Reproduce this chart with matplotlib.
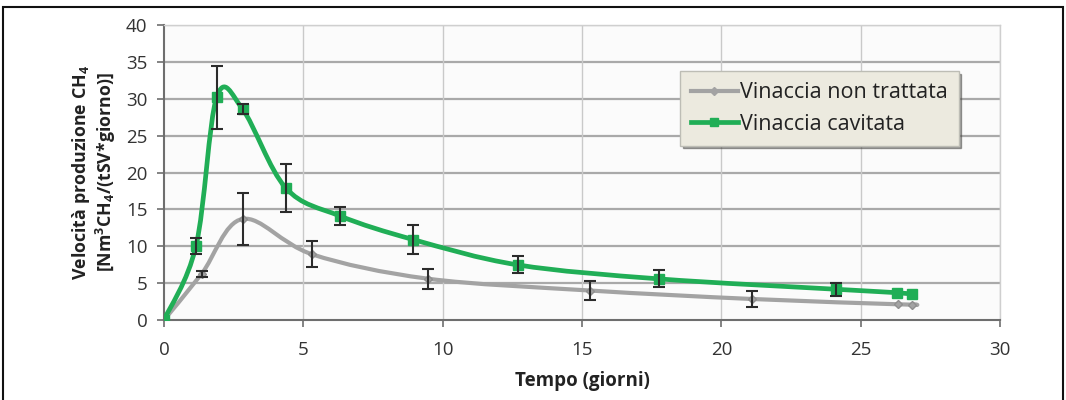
import numpy as np
import matplotlib
matplotlib.use("Agg")
import matplotlib.pyplot as plt
from matplotlib.path import Path
from matplotlib.patches import PathPatch, Rectangle
from matplotlib.lines import Line2D

plt.rcParams['font.family'] = ['Open Sans', 'DejaVu Sans']
plt.rcParams['mathtext.fontset'] = 'custom'
plt.rcParams['mathtext.rm'] = 'Open Sans'
plt.rcParams['mathtext.bf'] = 'Open Sans:bold'

# ---- data ----
gray_x = [0, 1.35, 2.82, 5.32, 9.47, 15.27, 21.09, 26.35, 26.84]
gray_y = [0, 6.26, 13.7, 8.9, 5.6, 4.0, 2.85, 2.13, 2.1]
gray_err = [0, 0.4, 3.55, 1.75, 1.35, 1.35, 1.15, 0, 0]

green_x = [0, 1.15, 1.89, 2.82, 4.37, 6.32, 8.95, 12.70, 17.78, 24.11, 26.30, 26.84]
green_y = [0, 10.06, 30.2, 28.6, 17.9, 14.1, 10.9, 7.47, 5.57, 4.17, 3.7, 3.5]
green_err = [0, 1.1, 4.3, 0.7, 3.2, 1.2, 1.95, 1.15, 1.15, 0.9, 0, 0]

labels = ["Vinaccia non trattata", "Vinaccia cavitata"]
xticks = [0, 5, 10, 15, 20, 25, 30]
yticks = [0, 5, 10, 15, 20, 25, 30, 35, 40]

GRAY = '#a3a3a3'
GREEN = '#20ae56'


def smooth_path(xs, ys):
    """Excel-like smoothed line: Catmull-Rom as cubic Bezier segments."""
    P = np.column_stack([xs, ys]).astype(float)
    n = len(P)
    verts = [P[0]]
    codes = [Path.MOVETO]
    for i in range(n - 1):
        p0 = P[i - 1] if i > 0 else P[i]
        p1 = P[i]
        p2 = P[i + 1]
        p3 = P[i + 2] if i + 2 < n else P[i + 1]
        c1 = p1 + (p2 - p0) / 6.0
        c2 = p2 - (p3 - p1) / 6.0
        verts += [c1, c2, p2]
        codes += [Path.CURVE4] * 3
    return Path(verts, codes)


fig = plt.figure(figsize=(10.66, 4.0), dpi=100)
ax = fig.add_axes([164 / 1066, 80 / 400, 836 / 1066, 295 / 400])
ax.set_facecolor('#fbfbfb')

# grid
for v in yticks[1:]:
    ax.axhline(v, color='#a9a9a9', lw=1.6, zorder=0)
for v in xticks[1:]:
    ax.axvline(v, color='#c9c9c9', lw=1.0, zorder=0)

# smoothed lines
ax.add_patch(PathPatch(smooth_path(gray_x, gray_y), fill=False, edgecolor=GRAY,
                       lw=3.0, capstyle='round', joinstyle='round', zorder=3))
ax.add_patch(PathPatch(smooth_path(green_x, green_y), fill=False, edgecolor=GREEN,
                       lw=3.4, capstyle='round', joinstyle='round', zorder=4))

# markers
ax.plot(gray_x, gray_y, 'D', color=GRAY, ms=4.5, mec='#8f8f8f', zorder=5)
ax.plot(green_x, green_y, 's', color=GREEN, ms=7, mec=GREEN, zorder=6)

# error bars
for xs, ys, es in [(gray_x, gray_y, gray_err), (green_x, green_y, green_err)]:
    xs = np.asarray(xs); ys = np.asarray(ys); es = np.asarray(es)
    m = es > 0
    ax.errorbar(xs[m], ys[m], yerr=es[m], fmt='none', ecolor='#2b2b2b',
                elinewidth=1.5, capsize=4.5, capthick=1.5, zorder=7)

ax.set_xlim(0, 30)
ax.set_ylim(0, 40)
ax.set_xticks(xticks)
ax.set_yticks(yticks)
ax.tick_params(axis='both', direction='out', length=5, width=1.2, color='#6e6e6e',
               labelsize=13.5, labelcolor='#333333')
ax.tick_params(axis='x', pad=10)
ax.tick_params(axis='y', pad=7)

for s in ['left', 'bottom']:
    ax.spines[s].set_color('#6e6e6e')
    ax.spines[s].set_linewidth(1.5)
for s in ['top', 'right']:
    ax.spines[s].set_color('#cfcfcf')
    ax.spines[s].set_linewidth(1.0)

ax.set_xlabel("Tempo (giorni)", fontsize=13.5, fontweight='bold', color='#222222', labelpad=9)
ax.set_ylabel(r"Velocità produzione CH$_\mathbf{4}$" "\n" r"[Nm$^\mathbf{3}$CH$_\mathbf{4}$/(tSV*giorno)]",
              fontsize=12.8, fontweight='bold', color='#222222', labelpad=6,
              linespacing=1.05)

handles = [Line2D([], [], color=GRAY, lw=3, marker='D', ms=4.5),
           Line2D([], [], color=GREEN, lw=3.4, marker='s', ms=6)]
leg = ax.legend(handles, labels, loc='upper left', bbox_to_anchor=(0.617, 0.843),
                fontsize=15.5, frameon=True, fancybox=False, shadow=True,
                handlelength=2.2, handletextpad=0.1, borderpad=0.5,
                labelspacing=0.5, borderaxespad=0)
leg.get_frame().set_facecolor('#eceadf')
leg.get_frame().set_edgecolor('#bdbdb5')
leg.get_frame().set_linewidth(1.0)
leg.get_frame().set_alpha(1)
for t in leg.get_texts():
    t.set_color('#222222')

# outer figure border
fig.patches.append(Rectangle((3 / 1066, -0.05), 1060 / 1066, (400 - 7) / 400 + 0.05,
                             transform=fig.transFigure, fill=False,
                             edgecolor='#111111', lw=1.5))

fig.savefig('out.png', dpi=100)
